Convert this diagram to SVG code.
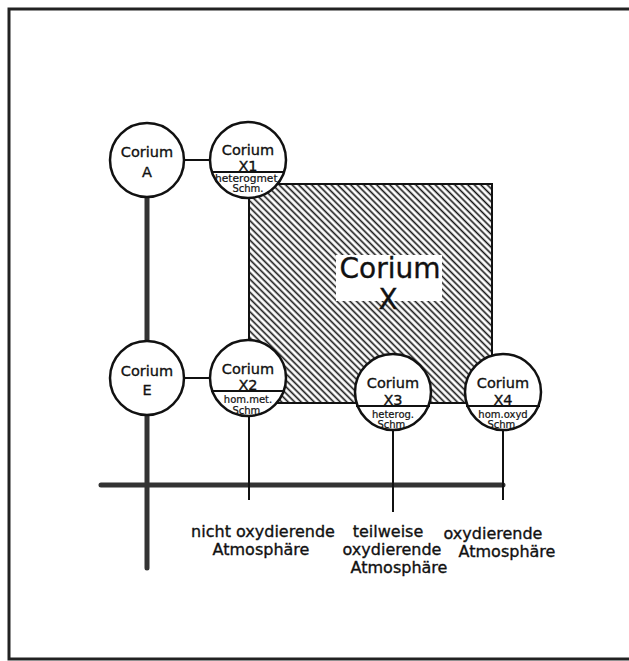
<svg xmlns="http://www.w3.org/2000/svg" width="629" height="661" viewBox="0 0 629 661">
<defs>
<pattern id="hatch" width="4.6" height="4.6" patternUnits="userSpaceOnUse" patternTransform="rotate(45)">
<line x1="0" y1="2.3" x2="4.6" y2="2.3" stroke="#111" stroke-width="1.6"/>
</pattern>
<style>
.c{fill:#fff;stroke:#111;stroke-width:2.5}
.ln{stroke:#111;stroke-width:2;fill:none}
.thick{stroke:#333;stroke-width:5;fill:none;stroke-linecap:round}
text{font-family:"DejaVu Sans","Liberation Sans",sans-serif;fill:#111;stroke:#111;stroke-width:0.35;text-anchor:middle}
.t{font-size:14.5px}
.x{font-size:14.5px}
.s{font-size:10px;stroke-width:0.2}
.lab{font-size:16px}
</style>
</defs>
<rect width="629" height="661" fill="#fff"/>
<g id="frame">
<path d="M629,9 H9 V659 H629" fill="none" stroke="#222" stroke-width="3"/>
</g>
<g id="corium-x">
<rect x="249" y="184" width="243" height="219" fill="url(#hatch)" stroke="#111" stroke-width="2"/>
<rect x="336" y="255" width="106" height="46" fill="#fff" stroke="none"/>
<text x="390" y="278" style="font-size:28px">Corium</text>
<text x="388" y="309" style="font-size:28px">X</text>
</g>
<g id="connectors">
<path class="thick" d="M147,197 V341 M147,415 V568 M101,485 H503"/>
<path class="ln" d="M184,160 H210 M184,378 H210 M249,416 V500 M393,430 V512 M503,430 V500"/>
</g>
<g id="corium-a">
<circle class="c" cx="147" cy="160" r="37"/>
<text class="t" x="147" y="157">Corium</text>
<text class="t" x="147" y="177">A</text>
</g>
<g id="corium-e">
<circle class="c" cx="147" cy="378" r="37"/>
<text class="t" x="147" y="376">Corium</text>
<text class="t" x="147" y="395">E</text>
</g>
<g id="corium-x1">
<circle class="c" cx="248" cy="160" r="38"/>
<line class="ln" x1="211" y1="172" x2="285" y2="172"/>
<text class="t" x="248" y="155">Corium</text>
<text class="x" x="248" y="171">X1</text>
<text class="s" x="248" y="182" textLength="66" lengthAdjust="spacingAndGlyphs">heterogmet.</text>
<text class="s" x="248" y="192">Schm.</text>
</g>
<g id="corium-x2">
<circle class="c" cx="248" cy="378" r="38"/>
<line class="ln" x1="211" y1="391" x2="285" y2="391"/>
<text class="t" x="248" y="374">Corium</text>
<text class="x" x="248" y="390">X2</text>
<text class="s" x="248" y="403">hom.met.</text>
<text class="s" x="248" y="414">Schm.</text>
</g>
<g id="corium-x3">
<circle class="c" cx="393" cy="392" r="38"/>
<line class="ln" x1="356" y1="406" x2="430" y2="406"/>
<text class="t" x="393" y="388">Corium</text>
<text class="x" x="393" y="405">X3</text>
<text class="s" x="393" y="418">heterog.</text>
<text class="s" x="393" y="428">Schm.</text>
</g>
<g id="corium-x4">
<circle class="c" cx="503" cy="392" r="38"/>
<line class="ln" x1="466" y1="406" x2="540" y2="406"/>
<text class="t" x="503" y="388">Corium</text>
<text class="x" x="503" y="405">X4</text>
<text class="s" x="503" y="418">hom.oxyd</text>
<text class="s" x="503" y="428">Schm.</text>
</g>
<g id="labels">
<text class="lab" x="263" y="537">nicht oxydierende</text>
<text class="lab" x="261" y="555">Atmosphäre</text>
<text class="lab" x="388" y="537">teilweise</text>
<text class="lab" x="392" y="555">oxydierende</text>
<text class="lab" x="399" y="573">Atmosphäre</text>
<text class="lab" x="493" y="539">oxydierende</text>
<text class="lab" x="507" y="557">Atmosphäre</text>
</g>
</svg>
